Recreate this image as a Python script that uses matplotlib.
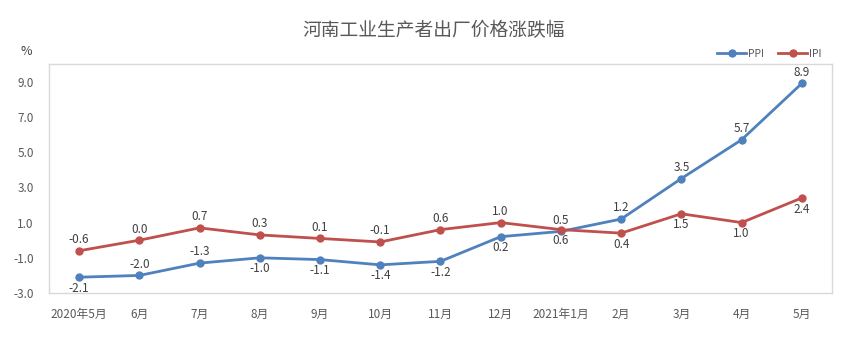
import matplotlib
matplotlib.use("Agg")
import matplotlib.pyplot as plt

plt.rcParams['font.family'] = ['Noto Sans CJK SC', 'DejaVu Sans']

# data
months = ['2020年5月', '6月', '7月', '8月', '9月', '10月', '11月',
          '12月', '2021年1月', '2月', '3月', '4月', '5月']
ppi = [-2.1, -2.0, -1.3, -1.0, -1.1, -1.4, -1.2, 0.2, 0.5, 1.2, 3.5, 5.7, 8.9]
ipi = [-0.6, 0.0, 0.7, 0.3, 0.1, -0.1, 0.6, 1.0, 0.6, 0.4, 1.5, 1.0, 2.4]
# where each data label sits: +1 above the point, -1 below
ppi_side = [-1, 1, 1, -1, -1, -1, -1, -1, 1, 1, 1, 1, 1]
ipi_side = [1, 1, 1, 1, 1, 1, 1, 1, -1, -1, -1, -1, -1]
yticks = [-3.0, -1.0, 1.0, 3.0, 5.0, 7.0, 9.0]

blue = '#4F81BD'
red = '#C0504D'
grey = '#595959'

fig = plt.figure(figsize=(8.59, 3.46), dpi=100)
ax = fig.add_axes([0.057, 0.153, 0.9115, 0.662])

x = list(range(len(months)))
ax.plot(x, ppi, color=blue, lw=2.0, marker='o', ms=5, label='PPI', zorder=3)
ax.plot(x, ipi, color=red, lw=2.0, marker='o', ms=5, label='IPI', zorder=4)

# data labels
for vals, sides in ((ppi, ppi_side), (ipi, ipi_side)):
    for i, (v, s) in enumerate(zip(vals, sides)):
        ax.annotate(f'{v:.1f}', (i, v), xytext=(0, 8 * s), textcoords='offset points',
                    ha='center', va='center', fontsize=8.5, color='#404040')

ax.set_xlim(-0.5, len(months) - 0.5)
ax.set_ylim(-3, 10)
ax.set_yticks(yticks)
ax.set_yticklabels([f'{t:.1f}' for t in yticks])
ax.set_xticks(x)
ax.set_xticklabels(months)
ax.tick_params(length=0, labelsize=8.5, colors=grey)
ax.tick_params(axis='x', pad=11)
ax.tick_params(axis='y', pad=11)
for sp in ax.spines.values():
    sp.set_color('#D9D9D9')
    sp.set_linewidth(1.0)

fig.text(0.505, 0.913, '河南工业生产者出厂价格涨跌幅', ha='center', va='center',
         fontsize=13.5, color=grey)
fig.text(0.024, 0.85, '%', ha='left', va='center', fontsize=9, color='#404040')

ax.legend(loc='lower right', bbox_to_anchor=(0.995, 0.995), ncol=2, frameon=False,
          fontsize=7.5, handlelength=2.8, columnspacing=1.3, handletextpad=0.2,
          labelcolor=grey, borderaxespad=0.2)

fig.savefig('out.png', dpi=100)
